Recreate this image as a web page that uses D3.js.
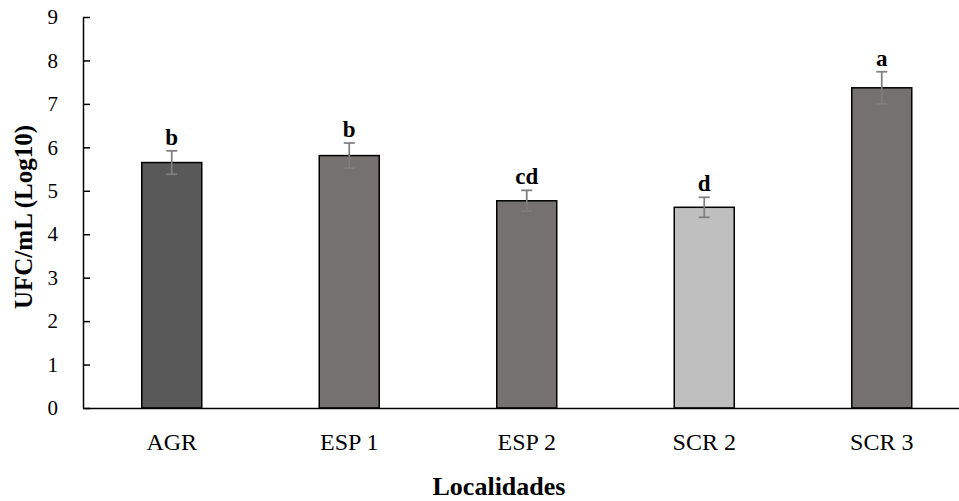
<!DOCTYPE html>
<html>
<head>
<meta charset="utf-8">
<script src="https://cdn.jsdelivr.net/npm/d3@7"></script>
<style>
  html, body { margin: 0; padding: 0; background: #fff; }
  svg { display: block; }
  text { font-family: "Liberation Serif", "DejaVu Serif", serif; fill: #000; }
</style>
</head>
<body>
<svg id="chart" width="959" height="501"></svg>
<script>
// Localities, mean counts (log10 UFC/mL), error half-widths, significance letters
const localidades = ["AGR", "ESP 1", "ESP 2", "SCR 2", "SCR 3"];
const medias = [5.65, 5.81, 4.77, 4.62, 7.37];
const errores = [0.27, 0.29, 0.24, 0.23, 0.37];
const letras = ["b", "b", "cd", "d", "a"];
const colores = ["#595959", "#767171", "#767171", "#bfbfbf", "#767171"];
const yTicks = [0, 1, 2, 3, 4, 5, 6, 7, 8, 9];

const svg = d3.select("#chart");
const plotLeft = 83, plotRight = 970.5, plotTop = 17, plotBottom = 408;
const serif = "Liberation Serif";

const x = d3.scaleBand().domain(localidades).range([plotLeft, plotRight])
  .paddingInner(0.662).paddingOuter(0.331);
const y = d3.scaleLinear().domain([0, 9]).range([plotBottom, plotTop]);

// Y axis, ticks pointing into the plot
const yAxis = svg.append("g")
  .attr("transform", `translate(${plotLeft},0)`)
  .call(d3.axisLeft(y).tickValues(yTicks).tickSizeInner(-7).tickSizeOuter(0).tickPadding(25));
yAxis.select(".domain").attr("stroke", "#000").attr("stroke-width", 1.5);
yAxis.selectAll(".tick line").attr("stroke", "#000").attr("stroke-width", 1.5);
yAxis.selectAll(".tick text").attr("font-size", 21).attr("font-family", serif).attr("fill", "#000");

// Bars
svg.append("g").selectAll("rect")
  .data(localidades)
  .join("rect")
  .attr("x", d => x(d))
  .attr("y", (d, i) => y(medias[i]))
  .attr("width", x.bandwidth())
  .attr("height", (d, i) => y(0) - y(medias[i]))
  .attr("fill", (d, i) => colores[i])
  .attr("stroke", "#000")
  .attr("stroke-width", 1.5);

// X axis (drawn after bars so the baseline sits on top)
const xAxis = svg.append("g")
  .attr("transform", `translate(0,${plotBottom})`)
  .call(d3.axisBottom(x).tickSize(0).tickPadding(25).tickSizeOuter(0));
xAxis.select(".domain").attr("stroke", "#000").attr("stroke-width", 1.5);
xAxis.selectAll(".tick text").attr("font-size", 24).attr("font-family", serif).attr("fill", "#000");

// Error bars
const eb = svg.append("g").attr("stroke", "#7f7f7f").attr("stroke-width", 1.75);
localidades.forEach((d, i) => {
  const cx = x(d) + x.bandwidth() / 2;
  const hi = y(medias[i] + errores[i]);
  const lo = y(medias[i] - errores[i]);
  eb.append("line").attr("x1", cx).attr("x2", cx).attr("y1", hi).attr("y2", lo);
  eb.append("line").attr("x1", cx - 5.5).attr("x2", cx + 5.5).attr("y1", hi).attr("y2", hi);
  eb.append("line").attr("x1", cx - 5.5).attr("x2", cx + 5.5).attr("y1", lo).attr("y2", lo);
});

// Significance letters
svg.append("g").selectAll("text")
  .data(localidades)
  .join("text")
  .attr("x", d => x(d) + x.bandwidth() / 2)
  .attr("y", (d, i) => y(medias[i] + errores[i]) - 6)
  .attr("text-anchor", "middle")
  .attr("font-size", 23)
  .attr("font-weight", "bold")
  .text((d, i) => letras[i]);

// Axis titles
svg.append("text")
  .attr("x", 499).attr("y", 495)
  .attr("text-anchor", "middle")
  .attr("font-size", 26).attr("font-weight", "bold")
  .text("Localidades");

svg.append("text")
  .attr("transform", "translate(32,217) rotate(-90)")
  .attr("text-anchor", "middle")
  .attr("font-size", 25).attr("font-weight", "bold")
  .text("UFC/mL (Log10)");
</script>
</body>
</html>
